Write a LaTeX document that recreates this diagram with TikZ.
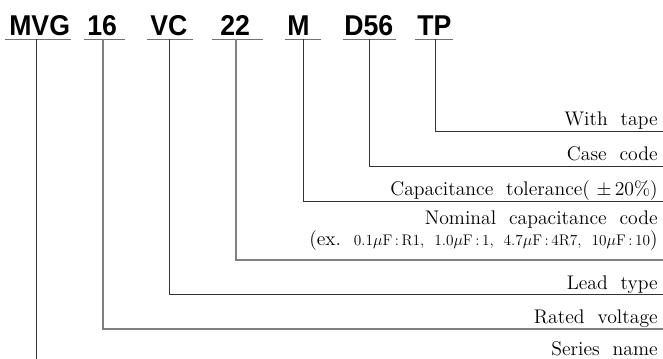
\documentclass[tikz,border=0pt]{standalone}
\usepackage{fontspec}
\newfontfamily\titlefont{Liberation Sans}[FakeStretch=0.93]
\begin{document}
\begin{tikzpicture}[x=0.75pt,y=-0.75pt,
  code/.style={inner sep=0pt,anchor=base west,font=\titlefont\bfseries\fontsize{21.5}{24}\selectfont},
  lbl/.style={inner sep=0pt,anchor=base east,align=right,font=\fontsize{14.8}{20}\selectfont},
  uline/.style={draw=black!55,line width=0.8pt},
  dk/.style={draw=black!80,line width=0.6pt},
  lt/.style={draw=black!50,line width=0.8pt}]
\useasboundingbox (0,0) rectangle (663,359);
% codes
\node[code] (mvg) at (9,36) {MVG};
\node[code] (v16) at (87,36) {16};
\node[code] (vc) at (150,36) {VC};
\node[code] (c22) at (220,36) {22};
\node[code] (m) at (287,36) {M};
\node[code] (d56) at (344,36) {D56};
\node[code] (tp) at (417,36) {TP};
% underline attachment points
\coordinate (uMVG) at (36,39.5);
\coordinate (u16) at (103,39.5);
\coordinate (uVC) at (169,39.5);
\coordinate (u22) at (236,39.5);
\coordinate (uM) at (303,39.5);
\coordinate (uD) at (369,39.5);
\coordinate (uTP) at (435,39.5);
\draw[uline] (5,39.5) -- (71,39.5);
\draw[uline] (84,39.5) -- (125,39.5);
\draw[uline] (147,39.5) -- (193,39.5);
\draw[uline] (212,39.5) -- (263,39.5);
\draw[uline] (285,39.5) -- (321,39.5);
\draw[uline] (343,39.5) -- (396,39.5);
\draw[uline] (415,39.5) -- (453,39.5);
% labels
\node[lbl] (ltape) at (658,126) {With\ \ tape};
\node[lbl] (lcase) at (658,161) {Case\ \ code};
\node[lbl] (ltol) at (658,196) {Capacitance\ \ tolerance(\,\,$\pm$\,20\%)};
\node[lbl] (lnom) at (658,225) {Nominal\ \ capacitance\ \ code};
\node[lbl] (lex) at (658,246) {(ex.\ \ {\fontsize{11.5}{14}\selectfont 0.1$\mu$F\,:\,R1,\ \ 1.0$\mu$F\,:\,1,\ \ 4.7$\mu$F\,:\,4R7,\ \ 10$\mu$F\,:\,10})};
\node[lbl] (llead) at (658,289.5) {Lead\ \ type};
\node[lbl] (lrated) at (658,324) {Rated\ \ voltage};
\node[lbl] (lseries) at (658,355) {Series\ \ name};
% line ends
\coordinate (eTP) at (663,131);
\coordinate (eD) at (663,166);
\coordinate (eM) at (663,201);
\coordinate (e22) at (663,260);
\coordinate (eVC) at (663,294.5);
\coordinate (e16) at (663,329);
\coordinate (eMVG) at (36,359);
% connectors
\draw[dk] (uTP) |- (eTP);
\draw[dk] (uD) |- (eD);
\draw[dk] (uM) |- (eM);
\draw[lt] (u22) |- (e22);
\draw[dk] (uVC) |- (eVC);
\draw[lt] (u16) |- (e16);
\draw[dk] (uMVG) -- (eMVG);
\end{tikzpicture}
\end{document}
